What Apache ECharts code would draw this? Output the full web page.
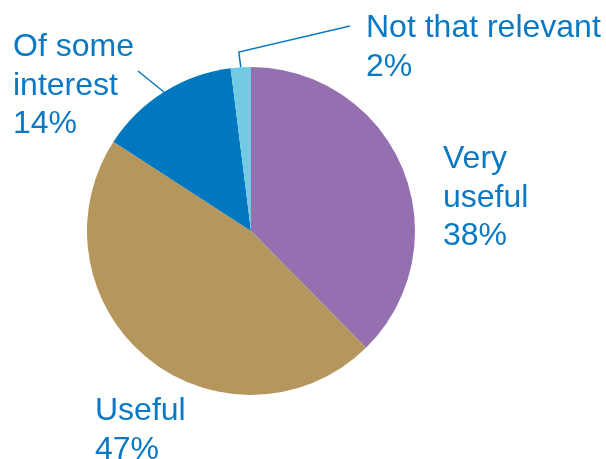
<!DOCTYPE html>
<html>
<head>
<meta charset="utf-8">
<script src="https://cdn.jsdelivr.net/npm/echarts@6/dist/echarts.min.js"></script>
<style>
html,body{margin:0;padding:0;background:#fff;}
#chart{width:606px;height:459px;}
</style>
</head>
<body>
<div id="chart"></div>
<script>
// Data
var categories = ['Very\nuseful', 'Useful', 'Of some\ninterest', 'Not that relevant'];
var values = [38, 47, 14, 2];

// Styles / layout (kept separate from data)
var colors = ['#9570B0', '#B5975D', '#0078BF', '#72CAE4'];
var labelAnchors = [[443, 140], [95, 392], [13, 28], [366, 9]];
var showLines = [false, false, true, true];

var chart = echarts.init(document.getElementById('chart'), null, {renderer: 'canvas'});

var seriesData = categories.map(function (c, i) {
  return {
    name: c,
    value: values[i],
    itemStyle: {color: colors[i]},
    labelLine: {show: showLines[i]}
  };
});

chart.setOption({
  animation: false,
  series: [{
    type: 'pie',
    center: [251, 231],
    radius: 164,
    startAngle: 90,
    clockwise: true,
    avoidLabelOverlap: false,
    emphasis: {disabled: true},
    itemStyle: {borderWidth: 0},
    label: {
      show: true,
      position: 'outside',
      formatter: function (p) { return p.name + '\n' + p.value + '%'; },
      color: '#0A78C2',
      fontFamily: 'Liberation Sans, Arial, sans-serif',
      fontSize: 32,
      lineHeight: 38.5
    },
    labelLine: {
      show: true,
      lineStyle: {color: '#0A78C2', width: 1.5}
    },
    labelLayout: function (params) {
      var i = params.dataIndex;
      var res = {
        x: labelAnchors[i][0],
        y: labelAnchors[i][1],
        align: 'left',
        verticalAlign: 'top'
      };
      var pts = params.labelLinePoints;
      if (pts && pts.length) {
        var s = pts[0];
        if (i === 2) {
          res.labelLinePoints = [[s[0], s[1]], [(s[0] + 138) / 2, (s[1] + 71) / 2], [138, 71]];
        } else if (i === 3) {
          res.labelLinePoints = [[s[0], s[1]], [s[0] - 2, 52], [350, 26]];
        }
      }
      return res;
    },
    data: seriesData
  }]
});
</script>
</body>
</html>
